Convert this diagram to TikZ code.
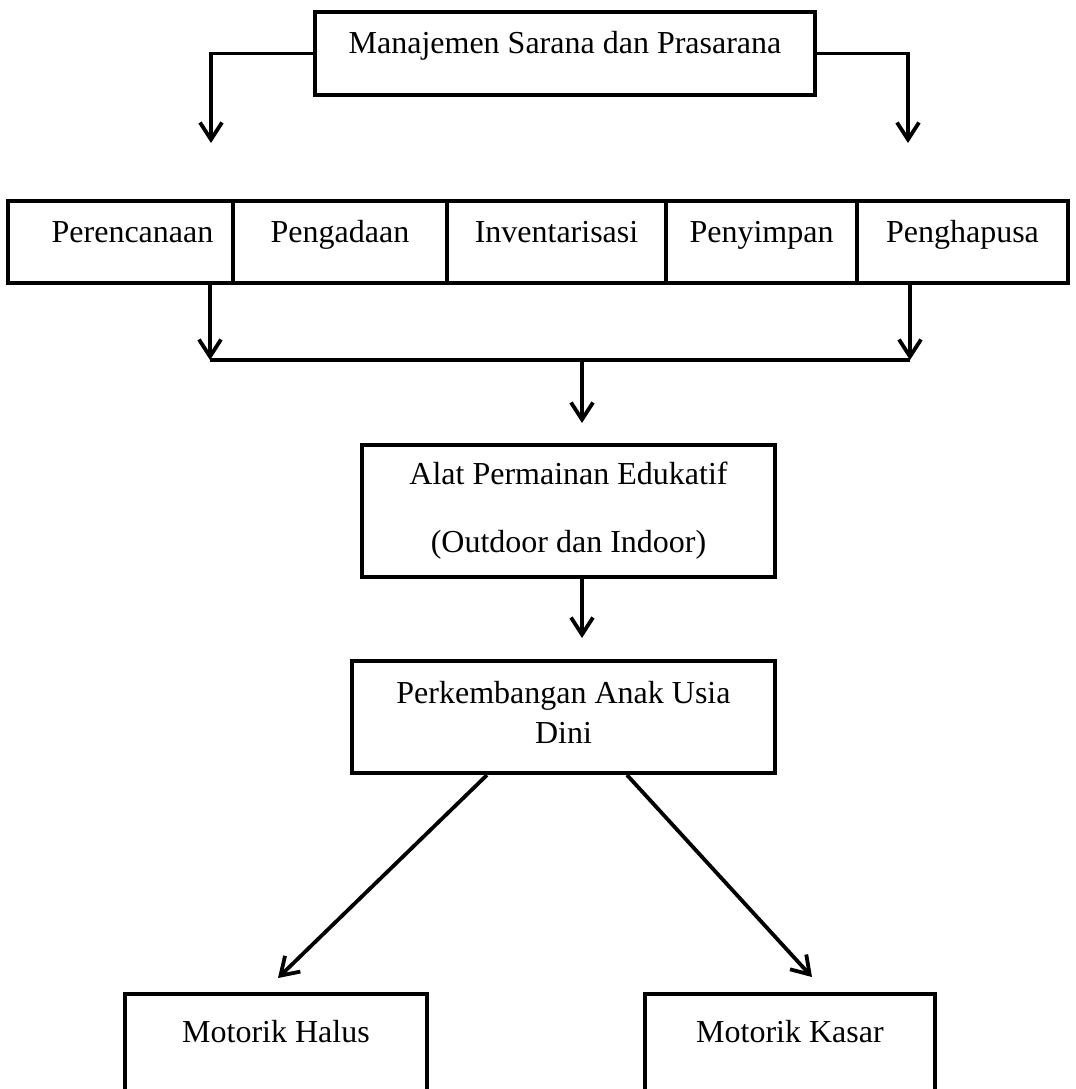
\documentclass[tikz,border=0pt]{standalone}
\usepackage{fontspec}
\setmainfont{Liberation Serif}
\usetikzlibrary{arrows.meta}

\begin{document}
\begin{tikzpicture}[x=0.5pt, y=-0.5pt,
  box/.style={draw, rectangle, line width=2pt, font=\fontsize{16pt}{20pt}\selectfont,
    text height=6pt, text depth=6pt},
  tallbox/.style={draw, rectangle, line width=2pt, align=center,
    font=\fontsize{16pt}{20pt}\selectfont},
  footbox/.style={box, anchor=north, inner ysep=0pt, text height=24pt, text depth=70pt},
  rail/.style={line width=1.9pt},
  conn/.style={rail, -{Straight Barb[length=8.5pt,width=11pt]}}]

\useasboundingbox (0,0) rectangle (1076,1089);
\clip (0,0) rectangle (1076,1089);

%%%%%%%%%%%% Manajemen
\node[box, minimum width=250pt, minimum height=41.5pt] (manajemen) at (565,53.5)
  {Manajemen Sarana dan Prasarana};

\coordinate (ltip) at (211,143);
\coordinate (rtip) at (908,143);
\draw[conn] (manajemen.west) -| (ltip);
\draw[conn] (manajemen.east) -| (rtip);

%%%%%%%%%%%% Kegiatan
\node[box, minimum width=112.5pt, minimum height=41pt] (perencanaan) at (120.5,242)
  {\hspace*{12pt}Perencanaan};
\node[box, minimum width=107pt, minimum height=41pt] (pengadaan) at (340,242) {Pengadaan};
\node[box, minimum width=109.5pt, minimum height=41pt] (inventarisasi) at (556.5,242) {Inventarisasi};
\node[box, minimum width=95.5pt, minimum height=41pt] (penyimpan) at (761.5,242) {Penyimpan};
\node[box, minimum width=105.5pt, minimum height=41pt] (penghapusa) at (962.5,242) {Penghapusa};

\coordinate (jl) at (210,360);
\coordinate (jr) at (910,360);
\coordinate (jm) at (582,360);
\draw[conn] (perencanaan.south -| jl) -- (jl);
\draw[conn] (penghapusa.south -| jr) -- (jr);
\draw[rail] (jl) -- (jr);

%%%%%%%%%%%% APE
\node[tallbox, minimum width=206.5pt, minimum height=66pt] (ape) at (568.5,511)
  {Alat Permainan Edukatif\\[14pt](Outdoor dan Indoor)};
\draw[conn, shorten >=10pt] (jm) -- (jm |- ape.north);

%%%%%%%%%%%% Perkembangan
\node[tallbox, minimum width=211.5pt, minimum height=56pt] (aud) at (563.5,717)
  {Perkembangan Anak Usia\\Dini\rule[-5pt]{0pt}{5pt}};
\draw[conn, shorten >=10.5pt] (ape.south -| jm) -- (aud.north -| jm);

%%%%%%%%%%%% Motorik
\node[footbox, minimum width=151pt] (halus) at (276,992) {Motorik Halus};
\node[footbox, minimum width=145pt] (kasar) at (790,992) {Motorik Kasar};

\draw[conn] ([xshift=-38.25pt]aud.south) -- ([xshift=1pt,yshift=7pt]halus.north);
\draw[conn] ([xshift=31.75pt]aud.south) -- ([xshift=11pt,yshift=7.5pt]kasar.north);
\end{tikzpicture}
\end{document}
